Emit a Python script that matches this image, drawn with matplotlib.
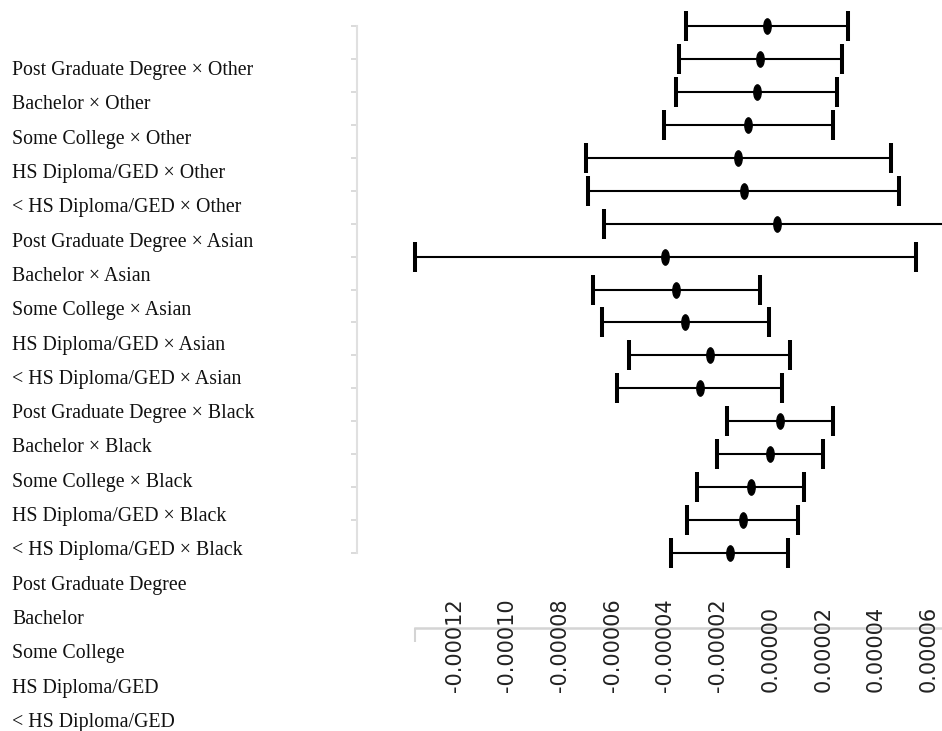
import matplotlib
matplotlib.use("Agg")
import matplotlib.pyplot as plt
import matplotlib.transforms as mtransforms
from matplotlib.path import Path

# Row labels printed down the left side
labels = [
    "Post Graduate Degree \u00d7 Other",
    "Bachelor \u00d7 Other",
    "Some College \u00d7 Other",
    "HS Diploma/GED \u00d7 Other",
    "< HS Diploma/GED \u00d7 Other",
    "Post Graduate Degree \u00d7 Asian",
    "Bachelor \u00d7 Asian",
    "Some College \u00d7 Asian",
    "HS Diploma/GED \u00d7 Asian",
    "< HS Diploma/GED \u00d7 Asian",
    "Post Graduate Degree \u00d7 Black",
    "Bachelor \u00d7 Black",
    "Some College \u00d7 Black",
    "HS Diploma/GED \u00d7 Black",
    "< HS Diploma/GED \u00d7 Black",
    "Post Graduate Degree",
    "Bachelor",
    "Some College",
    "HS Diploma/GED",
    "< HS Diploma/GED",
]

# Coefficient estimates with confidence bounds (top row first)
estimate = [-1.5e-6, -3.9e-6, -5.2e-6, -8.5e-6, -1.23e-5, -1.03e-5, 2.2e-6,
            -4.01e-5, -3.61e-5, -3.24e-5, -2.32e-5, -2.70e-5, 3.5e-6,
            -1.0e-7, -7.5e-6, -1.06e-5, -1.56e-5]
lower = [-3.23e-5, -3.49e-5, -3.58e-5, -4.07e-5, -7.00e-5, -6.94e-5, -6.33e-5,
         -1.351e-4, -6.75e-5, -6.41e-5, -5.39e-5, -5.84e-5, -1.66e-5,
         -2.05e-5, -2.80e-5, -3.19e-5, -3.77e-5]
upper = [2.93e-5, 2.70e-5, 2.52e-5, 2.37e-5, 4.55e-5, 4.88e-5, 6.77e-5,
         5.51e-5, -4.2e-6, -8e-7, 7.2e-6, 4.3e-6, 2.37e-5,
         2.00e-5, 1.28e-5, 1.05e-5, 6.7e-6]

tick_values = [-0.00012, -0.00010, -0.00008, -0.00006, -0.00004, -0.00002,
               0.0, 0.00002, 0.00004, 0.00006]
tick_labels = ["-0.00012", "-0.00010", "-0.00008", "-0.00006", "-0.00004",
               "-0.00002", "0.00000", "0.00002", "0.00004", "0.00006"]

W, H = 942, 731
fig = plt.figure(figsize=(W / 100, H / 100), dpi=100)


def axes_px(x0, y0, x1, y1):
    return fig.add_axes([x0 / W, 1 - y1 / H, (x1 - x0) / W, (y1 - y0) / H])


# ---- left column of labels ----
lab_ax = axes_px(12, 68, 350, 720)
lab_ax.set_xlim(0, 1)
lab_ax.set_ylim(len(labels) - 1, 0)
lab_ax.axis("off")
for i, txt in enumerate(labels):
    lab_ax.text(0, i, txt, ha="left", va="center_baseline", fontsize=14.3,
                family=["Liberation Serif", "DejaVu Serif"], color="#111111")

# ---- coefficient plot ----
rows = list(range(len(estimate)))
ax = axes_px(415, 26, 949, 553)
xmin, xmax = min(lower), max(upper)
ax.set_xlim(xmin, xmax)
ax.set_ylim(len(rows) - 1, 0)
ax.patch.set_alpha(0)

err = [[e - lo for e, lo in zip(estimate, lower)],
       [hi - e for e, hi in zip(estimate, upper)]]
eb = ax.errorbar(estimate, rows, xerr=err, fmt="none", ecolor="black",
                 elinewidth=1.5, capsize=11, capthick=2.9)
for art in eb.get_children():
    art.set_clip_on(False)

ellipse = Path.unit_circle().transformed(mtransforms.Affine2D().scale(0.48, 1.0))
ax.plot(estimate, rows, linestyle="none", marker=ellipse, markersize=11,
        color="black", clip_on=False, zorder=5)

for side in ("top", "right"):
    ax.spines[side].set_visible(False)

ax.spines["left"].set_position(("outward", 41.8))
ax.spines["left"].set_bounds(0, len(rows) - 1)
ax.spines["left"].set_color("#e0e0e0")
ax.spines["left"].set_linewidth(1.5)
ax.set_yticks(rows)
ax.set_yticklabels([])
ax.tick_params(axis="y", length=4, width=1.3, color="#d8d8d8")

ax.spines["bottom"].set_position(("outward", 54))
ax.spines["bottom"].set_bounds(xmin, xmax)
ax.spines["bottom"].set_color("#d4d4d4")
ax.spines["bottom"].set_linewidth(1.8)
ax.spines["bottom"].set_zorder(0.5)
ax.xaxis.set_zorder(3)
ax.set_xticks(tick_values, labels=tick_labels)
ax.set_xticks([xmin], minor=True)
ax.tick_params(axis="x", which="major", length=0, pad=46, labelsize=15,
               labelcolor="#222222")
ax.tick_params(axis="x", which="minor", length=10, width=1.5, color="#d4d4d4")
for lbl in ax.get_xticklabels():
    lbl.set_rotation(90)
    lbl.set_va("bottom")
    lbl.set_family(["DejaVu Sans"])

fig.savefig("out.png", dpi=100)
